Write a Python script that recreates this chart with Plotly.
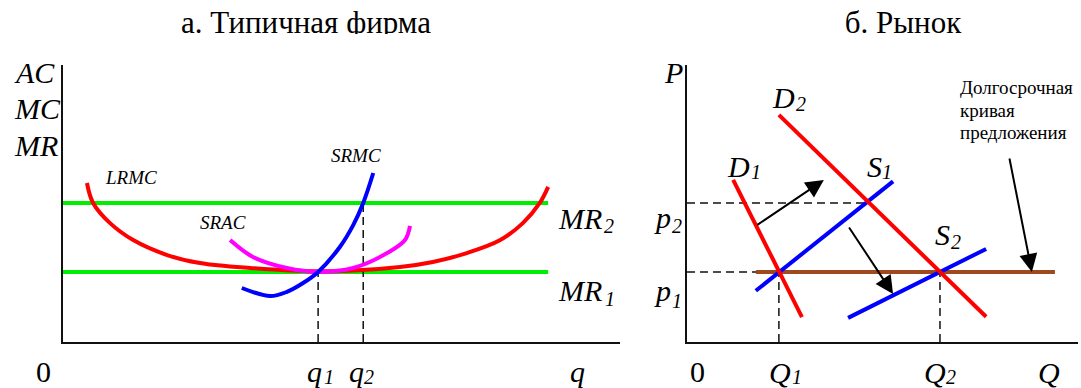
import plotly.graph_objects as go

W, H = 1081, 388

# ---------------- Left panel: typical firm (abstract units 0..100) ----------------
lrmc_q = [4.3, 5.4, 8.4, 12.6, 18.7, 24.6, 33.6, 45.6, 60.5, 66.4, 72.5, 78.5, 82.6, 85.6, 87.1]
lrmc_c = [57.4, 50.2, 43.0, 36.8, 31.4, 28.5, 26.7, 25.5, 27.1, 28.9, 32.1, 36.8, 43.0, 50.2, 56.0]

srac_q = [30.0, 34.1, 40.2, 45.8, 52.1, 58.2, 61.4, 62.3]
srac_c = [36.8, 30.7, 26.7, 25.3, 26.7, 32.1, 36.8, 41.9]

srmc_q = [32.1, 37.2, 40.2, 43.1, 45.8, 49.7, 52.1, 53.9, 55.7]
srmc_c = [19.5, 16.6, 18.1, 21.3, 25.3, 34.3, 42.2, 50.2, 61.0]

mr_levels = [25.3, 50.2]          # MR1, MR2
mr_q_range = [0, 87.1]
firm_q = [45.8, 53.9]             # q1, q2

# ---------------- Right panel: market (abstract units 0..100) ----------------
d1_Q = [11.8, 29.4]; d1_P = [58.5, 9.0]
d2_Q = [23.5, 76.5]; d2_P = [82.0, 9.1]
s1_Q = [17.6, 52.7]; s1_P = [18.5, 58.0]
s2_Q = [41.2, 76.5]; s2_P = [8.7, 33.6]
lrs_Q = [17.6, 94.1]; lrs_P = [25.3, 25.3]
market_p = [25.3, 50.2]           # p1, p2
market_Q = [23.5, 64.7]           # Q1, Q2
p2_Q = 46.3                       # S1 x D2
# arrows: (tail Q, tail P, head Q, head P)
arrows = [(17.6, 41.9, 35.0, 58.5), (41.2, 41.9, 52.7, 17.3), (82.4, 66.8, 88.2, 25.3)]

titles = ["а. Типичная фирма", "б. Рынок"]
lr_supply_text = ["Долгосрочная", "кривая", "предложения"]

RED, GREEN, BLUE, MAG, BROWN = "#ff0000", "#00ee00", "#0000ff", "#ff00ff", "#a0481e"
SERIF = "Liberation Serif"

fig = go.Figure()

def line(x, y, color, width=4, dash=None, xa="x", ya="y", shape="linear"):
    fig.add_trace(go.Scatter(x=x, y=y, mode="lines", xaxis=xa, yaxis=ya,
                             line=dict(color=color, width=width, dash=dash, shape=shape, smoothing=1.0),
                             hoverinfo="skip", showlegend=False))

DASH = "8px,5px"
# left panel
for lvl in mr_levels:
    line(mr_q_range, [lvl, lvl], GREEN)
line([firm_q[0], firm_q[0]], [0, mr_levels[0]], "#111", 1.5, DASH)
line([firm_q[1], firm_q[1]], [0, mr_levels[1]], "#111", 1.5, DASH)
line(lrmc_q, lrmc_c, RED, shape="spline")
line(srac_q, srac_c, MAG, shape="spline")
line(srmc_q, srmc_c, BLUE, shape="spline")

# right panel
line([0, p2_Q], [market_p[1], market_p[1]], "#111", 1.5, DASH, "x2", "y2")
line([0, market_Q[0]], [market_p[0], market_p[0]], "#111", 1.5, DASH, "x2", "y2")
for qv in market_Q:
    line([qv, qv], [0, market_p[0]], "#111", 1.5, DASH, "x2", "y2")
line(lrs_Q, lrs_P, BROWN, 4, None, "x2", "y2")
line(s1_Q, s1_P, BLUE, 4, None, "x2", "y2")
line(s2_Q, s2_P, BLUE, 4, None, "x2", "y2")
line(d1_Q, d1_P, RED, 4, None, "x2", "y2")
line(d2_Q, d2_P, RED, 4, None, "x2", "y2")

# titles (clipped at the bottom, as in the reference)
fig.add_trace(go.Scatter(x=[306, 903], y=[25, 25], xaxis="x3", yaxis="y3", mode="text",
                         text=titles, textposition="middle center",
                         textfont=dict(family=SERIF, size=31, color="#000"),
                         cliponaxis=True, hoverinfo="skip", showlegend=False))

def px(xp): return xp / W
def py(yp): return 1 - yp / H

ann = []
def label(text, x, y, size=30, xanchor="center", italic=True):
    t = f"<i>{text}</i>" if italic else text
    ann.append(dict(text=t, x=px(x), y=py(y), xref="paper", yref="paper",
                    xanchor=xanchor, yanchor="middle", showarrow=False,
                    font=dict(family=SERIF, size=size, color="#000")))

def sublabel(main, sub, x, y, xs, ys):
    label(main, x, y, 30, "left")
    label(sub, xs, ys, 20, "left")

label("AC", 12, 72, xanchor="left")
label("MC", 12, 108, xanchor="left")
label("MR", 12, 145, xanchor="left")
label("LRMC", 131, 178, 19)
label("SRAC", 223, 223, 19)
label("SRMC", 356, 155, 19)
sublabel("MR", "2", 556, 218, 602, 226)
sublabel("MR", "1", 556, 290, 603, 299)
label("0", 43, 371, italic=False)
sublabel("q", "1", 305, 371, 322, 377)
sublabel("q", "2", 347, 371, 362, 377)
label("q", 577, 371)

label("P", 673, 72)
sublabel("D", "2", 770, 97, 794, 104)
sublabel("D", "1", 725, 166, 749, 172)
sublabel("S", "1", 865, 166, 880, 172)
sublabel("S", "2", 933, 235, 949, 242)
sublabel("p", "2", 652, 217, 670, 226)
sublabel("p", "1", 652, 290, 670, 301)
label("0", 697, 371, italic=False)
sublabel("Q", "1", 767, 372, 790, 377)
sublabel("Q", "2", 922, 372, 944, 377)
label("Q", 1049, 372)
for txt, yy in zip(lr_supply_text, [88, 110, 132]):
    label(txt, 958, yy, 19, "left", False)

for tq, tp, hq, hp in arrows:
    ann.append(dict(x=hq, y=hp, ax=tq, ay=tp, xref="x2", yref="y2", axref="x2", ayref="y2",
                    showarrow=True, arrowhead=2, arrowsize=1.8, arrowwidth=2,
                    arrowcolor="#000", text=""))

axis_common = dict(showgrid=False, zeroline=False, showticklabels=False, ticks="",
                   showline=True, linecolor="#111", linewidth=2, fixedrange=True)
ydom = [1 - 342 / H, 1 - 65 / H]
fig.update_layout(
    width=W, height=H, autosize=False,
    margin=dict(l=0, r=0, t=0, b=0),
    paper_bgcolor="white", plot_bgcolor="white",
    xaxis=dict(domain=[63 / W, 620 / W], range=[0, 100], **axis_common),
    yaxis=dict(domain=ydom, range=[0, 100], **axis_common),
    xaxis2=dict(domain=[687 / W, 1078 / W], range=[0, 100], anchor="y2", **axis_common),
    yaxis2=dict(domain=ydom, range=[0, 100], anchor="x2", **axis_common),
    xaxis3=dict(domain=[0, 1], range=[0, W], anchor="y3", visible=False, fixedrange=True),
    yaxis3=dict(domain=[1 - 34 / H, 1], range=[34, 0], anchor="x3", visible=False, fixedrange=True),
    annotations=ann,
    showlegend=False,
)

fig.write_html("out.html", config={"displayModeBar": False},
               post_script="document.body.style.margin='0';document.body.style.overflow='hidden';")
